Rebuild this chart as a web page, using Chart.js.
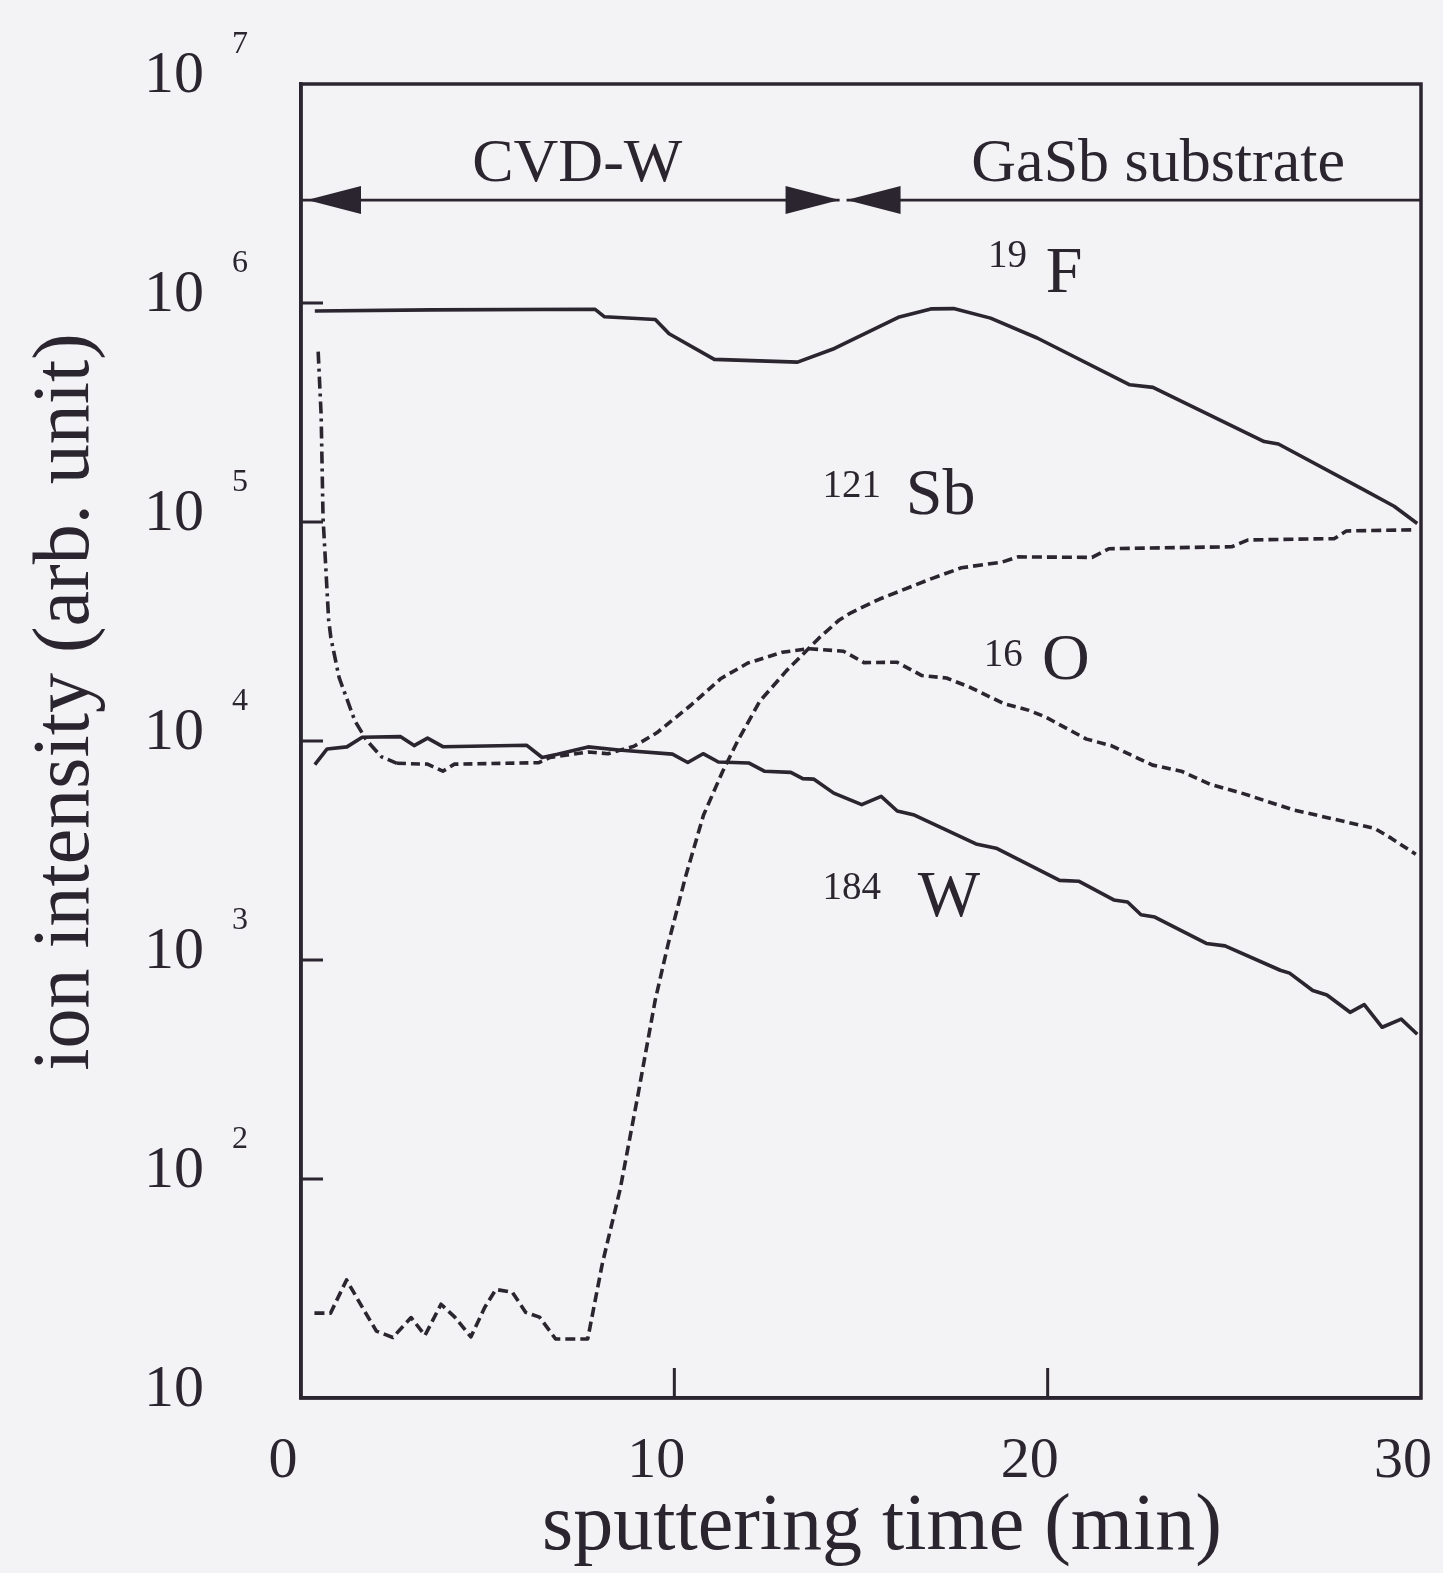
<!DOCTYPE html>
<html><head><meta charset="utf-8">
<script src="https://cdn.jsdelivr.net/npm/chart.js@4.4.1/dist/chart.umd.min.js"></script>
<style>
html,body{margin:0;padding:0;background:#f3f2f5;}
canvas{display:block;}
</style></head><body>
<canvas id="c" width="1443" height="1573"></canvas>
<script>
// ---- data (sputtering time in min, ion intensity in arb. unit) ----
const fTime=[0.37,3.5,7.87,8.13,9.49,9.86,11.07,13.3,14.29,16.0,16.87,17.48,18.47,19.72,22.2,22.82,25.8,26.18,28.41,29.28,29.9];
const fVal=[9.2e5,9.3e5,9.37e5,8.65e5,8.41e5,7.24e5,5.53e5,5.37e5,6.2e5,8.6e5,9.4e5,9.43e5,8.53e5,6.92e5,4.23e5,4.12e5,2.33e5,2.27e5,1.42e5,1.18e5,9.85e4];

const sbTime=[0.36,0.79,1.22,1.65,2.02,2.46,2.95,3.32,3.75,4.12,4.55,4.92,5.22,5.66,6.02,6.39,6.82,7.68,8.07,8.55,9.02,9.49,9.83,10.3,10.78,11.29,11.69,12.29,13.0,13.91,14.42,14.73,15.5,16.91,17.69,18.78,19.21,21.19,21.64,24.93,25.37,27.68,28.0,29.87];
const sbVal=[24.4,24.4,34.6,25.8,20.2,18.9,23.3,19.3,26.8,23.4,19.0,25.9,31.3,30.4,24.6,23.4,18.6,18.6,41,90,239,659,1175,2400,4580,7240,9950,15200,20900,29900,35700,38500,44500,55300,61800,65600,69300,68900,75500,77100,82800,84000,91000,92100];

const oTime=[0.46,0.54,0.59,0.74,0.8,1.02,1.44,1.75,2.16,2.57,3.39,3.8,4.11,6.37,6.67,7.71,8.22,8.92,9.53,10.45,11.25,11.97,12.89,13.6,14.53,15.08,15.96,16.63,17.29,17.95,18.83,19.5,19.93,21.04,21.7,22.81,23.58,24.35,25.24,26.56,27.66,28.76,29.2,29.86];
const oVal=[6.0e5,3.06e5,1.05e5,3.58e4,2.96e4,1.95e4,1.24e4,1.01e4,8460,7910,7840,7280,7840,7960,8410,8910,8750,9460,10900,14600,19300,22700,25400,26400,25700,22800,22900,19900,19400,17500,14800,13800,12900,10200,9530,7760,7280,6350,5750,4860,4400,3990,3600,3040];

const wTime=[0.37,0.7,1.23,1.64,2.67,3.03,3.39,3.8,6.04,6.46,6.87,7.69,8.51,9.95,10.36,10.77,11.18,11.99,12.41,13.12,13.44,13.73,14.27,15.02,15.54,15.97,16.43,18.08,18.62,20.32,20.83,21.77,22.14,22.5,22.87,24.25,24.75,26.23,26.48,27.1,27.48,28.1,28.48,28.96,29.47,29.9];
const wVal=[7800,9200,9400,10400,10470,9530,10300,9420,9570,8410,8690,9400,9100,8710,7980,8750,8020,7940,7280,7190,6730,6700,5780,5120,5590,4790,4590,3390,3240,2310,2290,1880,1840,1610,1570,1190,1160,898,871,726,692,577,625,493,537,458];

const yTickValues=[10,100,1e3,1e4,1e5,1e6,1e7];
const yTickExponents=['','2','3','4','5','6','7'];
const xTickValues=[0,10,20,30];

// layer annotation
const layerBoundary=14.52;
const arrowLevel=2.95e6;
const layerNames=['CVD-W','GaSb substrate'];
const layerNameTimes=[7.4,22.96];

// species labels: mass number, symbol, anchor (time, value)
const speciesMass=['19','121','16','184'];
const speciesSym=['F','Sb','O','W'];
const massTime=[18.40,13.97,18.29,13.97];
const massVal=[1.46e6,1.30e5,2.21e4,1.89e3];
const symTime=[19.95,16.2,19.85,16.52];
const symVal=[1.12e6,1.09e5,1.91e4,1.58e3];

// ---- drawing ----
const ink='#2b2530';
const paper='#f3f2f5';
const serif='"Liberation Serif","Times New Roman",serif';
const pts=(ts,vs)=>ts.map((t,i)=>({x:t,y:vs[i]}));

const deco={
  id:'deco',
  beforeDraw(chart){
    const c=chart.ctx; c.save(); c.fillStyle=paper; c.fillRect(0,0,chart.width,chart.height); c.restore();
  },
  afterDraw(chart){
    const {ctx,chartArea:a,scales:{x,y}}=chart;
    ctx.save();
    ctx.strokeStyle=ink; ctx.fillStyle=ink;
    // frame
    ctx.lineWidth=3.5;
    ctx.strokeRect(a.left,a.top,a.right-a.left,a.bottom-a.top);
    // inward ticks
    ctx.lineWidth=3;
    ctx.beginPath();
    yTickValues.slice(1,-1).forEach(v=>{const py=y.getPixelForValue(v); ctx.moveTo(a.left,py); ctx.lineTo(a.left+22,py);});
    xTickValues.slice(1,-1).forEach(v=>{const px=x.getPixelForValue(v); ctx.moveTo(px,a.bottom); ctx.lineTo(px,a.bottom-30);});
    ctx.stroke();
    // exponents of y tick labels
    ctx.font='32px '+serif; ctx.textBaseline='middle'; ctx.textAlign='left';
    yTickValues.forEach((v,i)=>{
      if(!yTickExponents[i]) return;
      ctx.fillText(yTickExponents[i], a.left-69, y.getPixelForValue(v)-8-31);
    });
    // layer arrows
    const ay=y.getPixelForValue(arrowLevel);
    const bx=x.getPixelForValue(layerBoundary);
    const gap=3.5, ah=54, hw=14;
    ctx.lineWidth=2.8;
    ctx.beginPath();
    ctx.moveTo(a.left,ay); ctx.lineTo(bx-gap,ay);
    ctx.moveTo(bx+gap,ay); ctx.lineTo(a.right,ay);
    ctx.stroke();
    const tri=(tip,dir)=>{ctx.beginPath();ctx.moveTo(tip,ay);ctx.lineTo(tip-dir*ah,ay-hw);ctx.lineTo(tip-dir*ah,ay+hw);ctx.closePath();ctx.fill();};
    tri(a.left+6,-1); tri(bx-gap,1); tri(bx+gap,-1);
    ctx.font='62px '+serif; ctx.textAlign='center'; ctx.textBaseline='alphabetic';
    layerNames.forEach((n,i)=>ctx.fillText(n, x.getPixelForValue(layerNameTimes[i]), ay-19));
    // species labels
    ctx.textAlign='left';
    speciesMass.forEach((m,i)=>{
      ctx.font='39px '+serif;
      ctx.fillText(m, x.getPixelForValue(massTime[i]), y.getPixelForValue(massVal[i]));
      ctx.font='66px '+serif;
      ctx.fillText(speciesSym[i], x.getPixelForValue(symTime[i]), y.getPixelForValue(symVal[i]));
    });
    // axis titles
    ctx.font='80px '+serif; ctx.textAlign='center'; ctx.textBaseline='alphabetic';
    ctx.fillText('sputtering time (min)', 882, 1549);
    ctx.save(); ctx.translate(88,702); ctx.rotate(-Math.PI/2);
    ctx.fillText('ion intensity (arb. unit)',0,0);
    ctx.restore();
    ctx.restore();
  }
};

const lineBase={borderColor:ink,borderWidth:3.6,pointRadius:0,tension:0,fill:false,borderJoinStyle:'round'};

new Chart(document.getElementById('c'),{
  type:'line',
  data:{datasets:[
    Object.assign({label:'19F',data:pts(fTime,fVal)},lineBase),
    Object.assign({label:'121Sb',data:pts(sbTime,sbVal),borderDash:[10,5]},lineBase),
    Object.assign({label:'16O',data:pts(oTime,oVal),borderDash:[9,5],
      segment:{borderDash:c=>c.p0.parsed.x<2.2?[12,5,3,5]:[9,5]}},lineBase),
    Object.assign({label:'184W',data:pts(wTime,wVal)},lineBase)
  ]},
  options:{
    responsive:false, animation:false, devicePixelRatio:1,
    layout:{padding:{top:84,right:22,left:0,bottom:0}},
    plugins:{legend:{display:false},tooltip:{enabled:false}},
    scales:{
      x:{type:'linear',min:0,max:30,
        afterBuildTicks:s=>{s.ticks=xTickValues.map(v=>({value:v}));},
        afterFit:s=>{s.height=175; s.paddingLeft=0; s.paddingRight=0;},
        grid:{display:false,drawTicks:false},
        border:{display:true,color:ink,width:3.5},
        ticks:{color:ink,font:{family:serif,size:58},padding:29,labelOffset:-18,maxRotation:0,autoSkip:false}
      },
      y:{type:'logarithmic',min:10,max:1e7,
        afterBuildTicks:s=>{s.ticks=yTickValues.map(v=>({value:v}));},
        afterFit:s=>{s.width=301; s.paddingTop=0; s.paddingBottom=0;},
        grid:{display:false,drawTicks:false},
        border:{display:true,color:ink,width:3.5},
        ticks:{color:ink,font:{family:serif,size:60},padding:97,labelOffset:-8,autoSkip:false,callback:()=>'10'}
      }
    }
  },
  plugins:[deco]
});
</script>
</body></html>
